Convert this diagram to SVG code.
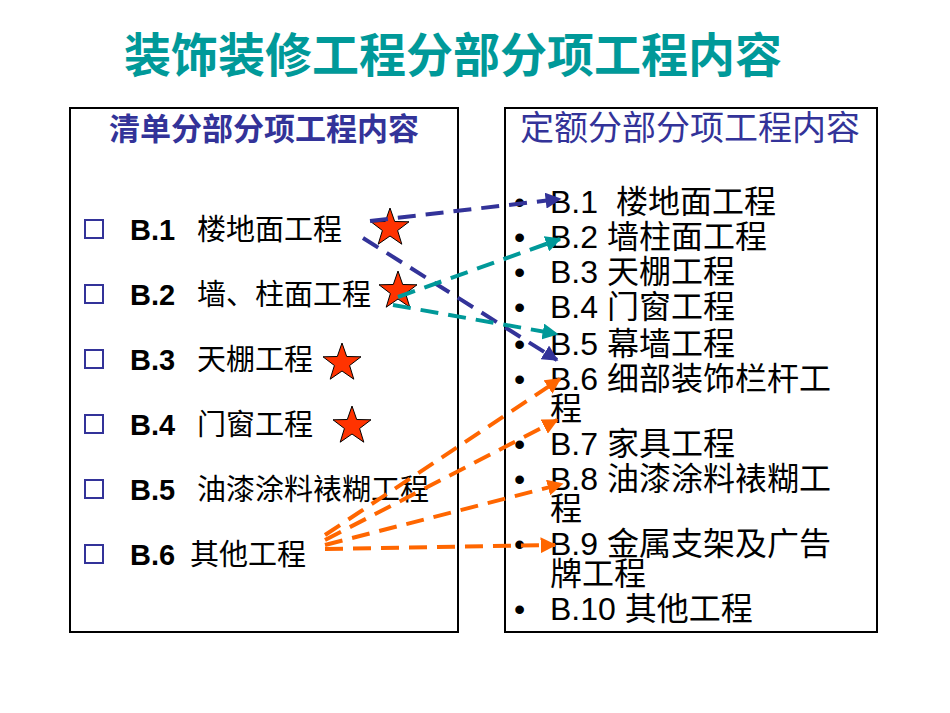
<svg xmlns="http://www.w3.org/2000/svg" width="950" height="713" viewBox="0 0 950 713">
<style>
text{font-family:"Liberation Sans","Noto Sans CJK SC",sans-serif}
.l{font-size:29px;fill:#000}
.r{font-size:32px;fill:#000}
.sq{fill:none;stroke:#333399;stroke-width:2}
.box{fill:none;stroke:#000;stroke-width:2}
.star{fill:#ff3300;stroke:#000;stroke-width:1}
.c{fill:none;stroke-width:4;stroke-dasharray:18 10}
</style>
<defs>
<marker id="ab" viewBox="0 0 10 10" refX="9" refY="5" markerWidth="4" markerHeight="4" orient="auto" markerUnits="strokeWidth"><path d="M0,0L10,5L0,10z" fill="#333399"/></marker>
<marker id="at" viewBox="0 0 10 10" refX="9" refY="5" markerWidth="4" markerHeight="4" orient="auto" markerUnits="strokeWidth"><path d="M0,0L10,5L0,10z" fill="#009999"/></marker>
<marker id="ao" viewBox="0 0 10 10" refX="9" refY="5" markerWidth="4" markerHeight="4" orient="auto" markerUnits="strokeWidth"><path d="M0,0L10,5L0,10z" fill="#ff6600"/></marker>
<path id="st" d="M0,-20L4.7,-6.5L19,-6.2L7.6,2.5L11.8,16.2L0,8L-11.8,16.2L-7.6,2.5L-19,-6.2L-4.7,-6.5z"/>
</defs>
<text x="453" y="72" text-anchor="middle" font-size="47" font-weight="bold" fill="#009999">装饰装修工程分部分项工程内容</text>
<g id="left">
<rect class="box" x="70" y="108" width="388" height="524"/>
<text x="264" y="140" text-anchor="middle" font-size="31" font-weight="bold" fill="#333399">清单分部分项工程内容</text>
<g class="l">
<rect class="sq" x="85" y="220" width="18" height="18"/><text x="130" y="240" font-weight="bold">B.1</text><text x="197" y="240">楼地面工程</text>
<rect class="sq" x="85" y="285" width="18" height="18"/><text x="130" y="305" font-weight="bold">B.2</text><text x="197" y="305">墙、柱面工程</text>
<rect class="sq" x="85" y="350" width="18" height="18"/><text x="130" y="370" font-weight="bold">B.3</text><text x="197" y="370">天棚工程</text>
<rect class="sq" x="85" y="415" width="18" height="18"/><text x="130" y="435" font-weight="bold">B.4</text><text x="197" y="435">门窗工程</text>
<rect class="sq" x="85" y="480" width="18" height="18"/><text x="130" y="500" font-weight="bold">B.5</text><text x="197" y="500">油漆涂料裱糊工程</text>
<rect class="sq" x="85" y="545" width="18" height="18"/><text x="130" y="565" font-weight="bold">B.6</text><text x="190" y="565">其他工程</text>
</g>
<use href="#st" class="star" x="390" y="228"/>
<use href="#st" class="star" x="398" y="291"/>
<use href="#st" class="star" x="342" y="363"/>
<use href="#st" class="star" x="352" y="426"/>
</g>
<g id="right">
<rect class="box" x="505" y="108" width="372" height="524"/>
<text x="690" y="140" text-anchor="middle" font-size="34" fill="#333399">定额分部分项工程内容</text>
<g class="r">
<text x="514" y="213">•</text><text x="550" y="213">B.1</text><text x="616" y="213">楼地面工程</text>
<text x="514" y="248">•</text><text x="550" y="248">B.2 墙柱面工程</text>
<text x="514" y="283">•</text><text x="550" y="283">B.3 天棚工程</text>
<text x="514" y="318">•</text><text x="550" y="318">B.4 门窗工程</text>
<text x="514" y="355">•</text><text x="550" y="355">B.5 幕墙工程</text>
<text x="514" y="390">•</text><text x="550" y="390">B.6 细部装饰栏杆工</text><text x="550" y="420">程</text>
<text x="514" y="455">•</text><text x="550" y="455">B.7 家具工程</text>
<text x="514" y="490">•</text><text x="550" y="490">B.8 油漆涂料裱糊工</text><text x="550" y="520">程</text>
<text x="514" y="555">•</text><text x="550" y="555">B.9 金属支架及广告</text><text x="550" y="585">牌工程</text>
<text x="514" y="620">•</text><text x="550" y="620">B.10 其他工程</text>
</g>
</g>
<g id="connectors">
<line class="c" stroke="#333399" marker-end="url(#ab)" x1="370" y1="221" x2="560" y2="199"/>
<line class="c" stroke="#333399" marker-end="url(#ab)" x1="363" y1="238" x2="557" y2="360"/>
<line class="c" stroke="#009999" marker-end="url(#at)" x1="398" y1="297" x2="560" y2="239"/>
<line class="c" stroke="#009999" marker-end="url(#at)" x1="393" y1="305" x2="557" y2="334"/>
<line class="c" stroke="#ff6600" marker-end="url(#ao)" x1="325" y1="535" x2="560" y2="379"/>
<line class="c" stroke="#ff6600" marker-end="url(#ao)" x1="325" y1="540" x2="557" y2="420"/>
<line class="c" stroke="#ff6600" marker-end="url(#ao)" x1="325" y1="545" x2="562" y2="484"/>
<line class="c" stroke="#ff6600" marker-end="url(#ao)" x1="325" y1="549" x2="555" y2="545"/>
</g>
</svg>
